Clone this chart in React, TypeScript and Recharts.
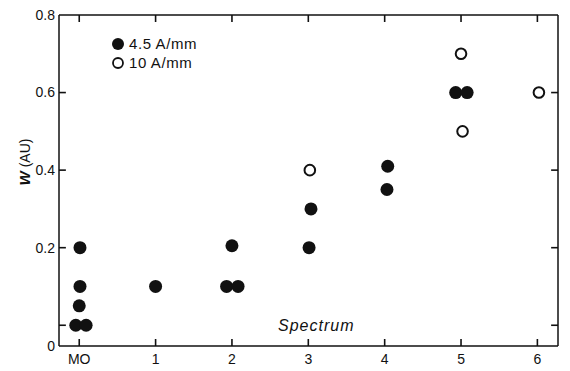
import React from "react";
import { ScatterChart, Scatter, XAxis, YAxis, ReferenceLine } from "recharts";

const xTickValues = [0, 1, 2, 3, 4, 5, 6];
const xTickLabels = ["MO", "1", "2", "3", "4", "5", "6"];
const yTickValues = [-0.0535, 0, 0.2, 0.4, 0.6, 0.8];
const yLeftMarks = [0, 0.2, 0.4, 0.6];
const yRightMarks = [0, 0.2, 0.4, 0.6];

const series45X = [0.01, 0.01, 0.0, -0.045, 0.09, 1.0, 2.0, 1.93, 2.08, 3.01, 3.035, 4.04, 4.03, 4.93, 5.08];
const series45Y = [0.2, 0.1, 0.05, 0.0, 0.0, 0.1, 0.205, 0.1, 0.1, 0.2, 0.3, 0.41, 0.35, 0.6, 0.6];
const series10X = [3.02, 5.0, 5.02, 6.02];
const series10Y = [0.4, 0.7, 0.5, 0.6];

const data45 = series45X.map((x, i) => ({ x, y: series45Y[i] }));
const data10 = series10X.map((x, i) => ({ x, y: series10Y[i] }));

const X_MIN = -0.265;
const X_MAX = 6.27;
const Y_MIN = -0.0535;
const Y_MAX = 0.8;
// inward tick-mark lengths in data units (~7px)
const TX = 0.09;
const TY = 0.018;

const FONT = "'Liberation Sans', Arial, sans-serif";
const INK = "#111";

const FilledDot = (p: any) => <circle cx={p.cx} cy={p.cy} r={6.5} fill={INK} />;
const OpenDot = (p: any) => (
  <circle cx={p.cx} cy={p.cy} r={5.3} fill="#fff" stroke={INK} strokeWidth={2} />
);

const BottomTick = (p: any) => {
  const v = p.payload.value;
  const lbl = xTickLabels[xTickValues.indexOf(v)] ?? "";
  return (
    <text x={p.x} y={p.y} dy="0.75em" textAnchor="middle" fill={INK} fontFamily={FONT} fontSize={14}>
      {lbl}
    </text>
  );
};

const LeftTick = (p: any) => {
  const v = p.payload.value;
  const lbl = v < 0 ? "0" : v === 0 ? "" : v.toFixed(1);
  return (
    <text x={p.x} y={p.y} dy="0.35em" textAnchor="end" fill={INK} fontFamily={FONT} fontSize={14}>
      {lbl}
    </text>
  );
};

const LegendBox = () => (
  <div style={{ fontFamily: FONT, fontSize: 15, color: INK, lineHeight: "19px", letterSpacing: 0.6 }}>
    <div style={{ display: "flex", alignItems: "center" }}>
      <svg width={14} height={14} style={{ marginRight: 4 }}>
        <circle cx={7} cy={7} r={6} fill={INK} />
      </svg>
      <span>4.5 A/mm</span>
    </div>
    <div style={{ display: "flex", alignItems: "center" }}>
      <svg width={14} height={14} style={{ marginRight: 4 }}>
        <circle cx={7} cy={7} r={5} fill="none" stroke={INK} strokeWidth={1.8} />
      </svg>
      <span>10 A/mm</span>
    </div>
  </div>
);

const axisLineStyle = () => ({ stroke: INK, strokeWidth: 1.5 });

export default function App() {
  return (
    <div style={{ position: "absolute", left: 0, top: 0, width: 570, height: 371, background: "#fff" }}>
      <ScatterChart width={570} height={371} margin={{ top: 14, right: 11, bottom: 0, left: 0 }}>
        <XAxis
          dataKey="x"
          type="number"
          xAxisId="b"
          domain={[X_MIN, X_MAX]}
          ticks={xTickValues}
          height={25}
          tickSize={0}
          tickMargin={7}
          stroke={INK}
          axisLine={axisLineStyle()}
          tickLine={false}
          tick={BottomTick}
          allowDataOverflow
          interval={0}
        />
        <XAxis
          dataKey="x"
          type="number"
          xAxisId="t"
          orientation="top"
          domain={[X_MIN, X_MAX]}
          ticks={xTickValues}
          height={1}
          tickSize={0}
          stroke={INK}
          axisLine={axisLineStyle()}
          tickLine={false}
          tick={false}
          allowDataOverflow
        />
        <YAxis
          dataKey="y"
          type="number"
          yAxisId="l"
          domain={[Y_MIN, Y_MAX]}
          ticks={yTickValues}
          width={59}
          tickSize={0}
          tickMargin={4}
          stroke={INK}
          axisLine={axisLineStyle()}
          tickLine={false}
          tick={LeftTick}
          allowDataOverflow
          interval={0}
        />
        <YAxis
          dataKey="y"
          type="number"
          yAxisId="r"
          orientation="right"
          domain={[Y_MIN, Y_MAX]}
          width={1}
          tickSize={0}
          stroke={INK}
          axisLine={axisLineStyle()}
          tickLine={false}
          tick={false}
          allowDataOverflow
        />
        {xTickValues.map((v) => (
          <ReferenceLine
            key={"b" + v}
            xAxisId="b"
            yAxisId="l"
            segment={[{ x: v, y: Y_MIN }, { x: v, y: Y_MIN + TY }]}
            stroke={INK}
            strokeWidth={1.6}
            ifOverflow="visible"
          />
        ))}
        {xTickValues.map((v) => (
          <ReferenceLine
            key={"t" + v}
            xAxisId="b"
            yAxisId="l"
            segment={[{ x: v, y: Y_MAX }, { x: v, y: Y_MAX - TY }]}
            stroke={INK}
            strokeWidth={1.6}
            ifOverflow="visible"
          />
        ))}
        {yLeftMarks.map((v) => (
          <ReferenceLine
            key={"l" + v}
            xAxisId="b"
            yAxisId="l"
            segment={[{ x: X_MIN, y: v }, { x: X_MIN + TX, y: v }]}
            stroke={INK}
            strokeWidth={1.6}
            ifOverflow="visible"
          />
        ))}
        {yRightMarks.map((v) => (
          <ReferenceLine
            key={"r" + v}
            xAxisId="b"
            yAxisId="l"
            segment={[{ x: X_MAX, y: v }, { x: X_MAX - TX, y: v }]}
            stroke={INK}
            strokeWidth={1.6}
            ifOverflow="visible"
          />
        ))}
        <Scatter name="4.5 A/mm" data={data45} xAxisId="b" yAxisId="l" shape={FilledDot} isAnimationActive={false} />
        <Scatter name="10 A/mm" data={data10} xAxisId="b" yAxisId="l" shape={OpenDot} isAnimationActive={false} />
        <Scatter name="frame" data={data10} xAxisId="t" yAxisId="r" shape={() => <g />} isAnimationActive={false} />
      </ScatterChart>
      <div style={{ position: "absolute", left: 111, top: 34 }}>
        <LegendBox />
      </div>
      <div
        style={{
          position: "absolute",
          left: 24,
          top: 162,
          transform: "translate(-50%, -50%) rotate(-90deg)",
          fontFamily: FONT,
          fontSize: 14,
          color: INK,
          whiteSpace: "nowrap",
        }}
      >
        <span style={{ fontWeight: "bold", fontStyle: "italic", fontSize: 15 }}>W</span> (AU)
      </div>
      <div
        style={{
          position: "absolute",
          left: 278,
          top: 317,
          fontFamily: FONT,
          fontSize: 16,
          fontStyle: "italic",
          letterSpacing: 1,
          color: INK,
          whiteSpace: "nowrap",
        }}
      >
        Spectrum
      </div>
    </div>
  );
}
